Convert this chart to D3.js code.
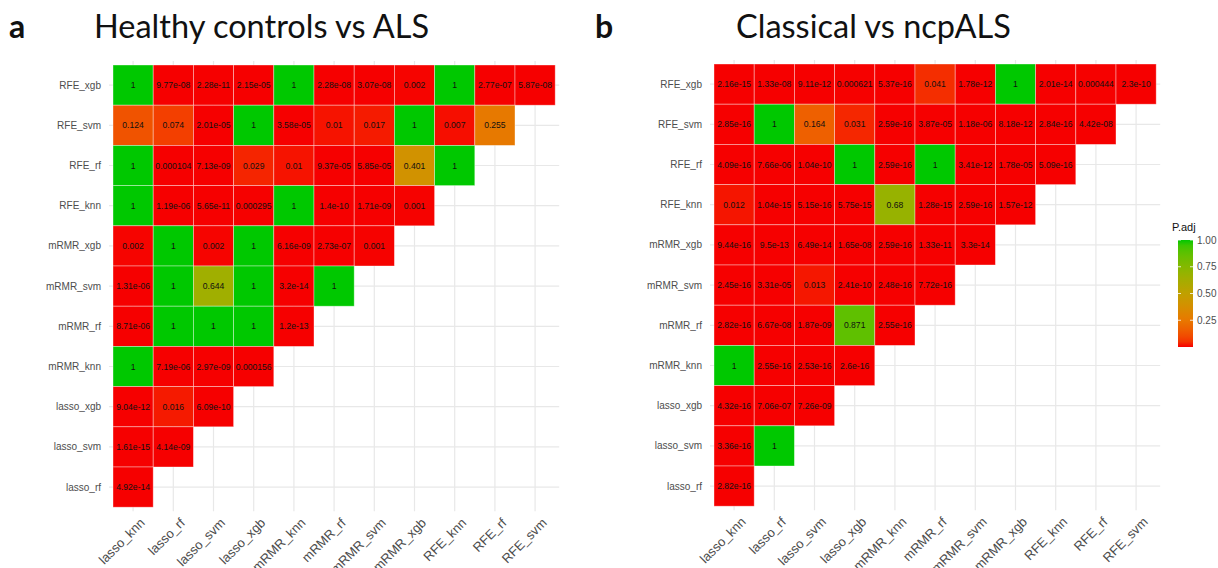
<!DOCTYPE html>
<html>
<head>
<meta charset="utf-8">
<script src="https://cdn.jsdelivr.net/npm/d3@7"></script>
<style>
  body { margin: 0; background: #fff; }
  svg { display: block; }
</style>
</head>
<body>
<div id="chart"></div>
<script>
// labels shared by both panels
const colLabels = ['lasso_knn', 'lasso_rf', 'lasso_svm', 'lasso_xgb', 'mRMR_knn', 'mRMR_rf',
  'mRMR_svm', 'mRMR_xgb', 'RFE_knn', 'RFE_rf', 'RFE_svm'];
const rowLabels = ['RFE_xgb', 'RFE_svm', 'RFE_rf', 'RFE_knn', 'mRMR_xgb', 'mRMR_svm',
  'mRMR_rf', 'mRMR_knn', 'lasso_xgb', 'lasso_svm', 'lasso_rf'];
const legendTicks = [0.25, 0.5, 0.75, 1];

// adjusted p-values, one array per row (top to bottom), starting at lasso_knn
const healthyVsALS = [
  ['1', '9.77e-08', '2.28e-11', '2.15e-05', '1', '2.28e-08', '3.07e-08', '0.002', '1', '2.77e-07', '5.87e-08'],
  ['0.124', '0.074', '2.01e-05', '1', '3.58e-05', '0.01', '0.017', '1', '0.007', '0.255'],
  ['1', '0.000104', '7.13e-09', '0.029', '0.01', '9.37e-05', '5.85e-05', '0.401', '1'],
  ['1', '1.19e-06', '5.65e-11', '0.000295', '1', '1.4e-10', '1.71e-09', '0.001'],
  ['0.002', '1', '0.002', '1', '6.16e-09', '2.73e-07', '0.001'],
  ['1.31e-06', '1', '0.644', '1', '3.2e-14', '1'],
  ['8.71e-06', '1', '1', '1', '1.2e-13'],
  ['1', '7.19e-06', '2.97e-09', '0.000156'],
  ['9.04e-12', '0.016', '6.09e-10'],
  ['1.61e-15', '4.14e-09'],
  ['4.92e-14']
];

const classicalVsNcpALS = [
  ['2.16e-15', '1.33e-08', '9.11e-12', '0.000621', '5.37e-16', '0.041', '1.78e-12', '1', '2.01e-14', '0.000444', '2.3e-10'],
  ['2.85e-16', '1', '0.164', '0.031', '2.59e-16', '3.87e-05', '1.18e-06', '8.18e-12', '2.84e-16', '4.42e-08'],
  ['4.09e-16', '7.66e-06', '1.04e-10', '1', '2.59e-16', '1', '3.41e-12', '1.78e-05', '5.09e-16'],
  ['0.012', '1.04e-15', '5.15e-16', '5.75e-15', '0.68', '1.28e-15', '2.59e-16', '1.57e-12'],
  ['9.44e-16', '9.5e-13', '6.49e-14', '1.65e-08', '2.59e-16', '1.33e-11', '3.3e-14'],
  ['2.45e-16', '3.31e-05', '0.013', '2.41e-10', '2.48e-16', '7.72e-16'],
  ['2.82e-16', '6.67e-08', '1.87e-09', '0.871', '2.55e-16'],
  ['1', '2.55e-16', '2.53e-16', '2.6e-16'],
  ['4.32e-16', '7.06e-07', '7.26e-09'],
  ['3.36e-16', '1'],
  ['2.82e-16']
];

const w = 1218;
const h = 568;
const cell = 40.2;

const svg = d3.select('#chart')
  .append('svg')
  .attr('width', w)
  .attr('height', h);

// red -> orange -> olive -> green
const color = d3.scaleLinear()
  .domain([0, 0.25, 0.5, 0.75, 1])
  .range(['#f60000', '#e87800', '#c0a000', '#84b800', '#00c800'])
  .interpolate(d3.interpolateLab);

// panel titles
function title(letter, text, xLetter, xText) {
  svg.append('text')
    .attr('x', xLetter).attr('y', 38)
    .attr('style', 'font: bold 32px Lato, "Open Sans", sans-serif; fill:#111;')
    .text(letter);
  svg.append('text')
    .attr('x', xText).attr('y', 38)
    .attr('style', 'font: 32.5px Lato, "Open Sans", sans-serif; fill:#111;')
    .text(text);
}
title('a', 'Healthy controls vs ALS', 9, 94);
title('b', 'Classical vs ncpALS', 595, 736);

function drawPanel(data, left, top) {
  const x = d3.scaleBand().domain(colLabels).range([left, left + cell * colLabels.length]);
  const y = d3.scaleBand().domain(rowLabels).range([top, top + cell * rowLabels.length]);
  const pad = 4;
  const g = svg.append('g');

  // grid lines at category centres
  g.selectAll('.vgrid')
    .data(colLabels)
    .enter()
    .append('line')
    .attr('x1', d => x(d) + x.bandwidth() / 2)
    .attr('x2', d => x(d) + x.bandwidth() / 2)
    .attr('y1', top - pad)
    .attr('y2', y.range()[1] + pad)
    .attr('stroke', '#e8e8e8')
    .attr('stroke-width', 1.2);
  g.selectAll('.hgrid')
    .data(rowLabels)
    .enter()
    .append('line')
    .attr('y1', d => y(d) + y.bandwidth() / 2)
    .attr('y2', d => y(d) + y.bandwidth() / 2)
    .attr('x1', left - pad)
    .attr('x2', x.range()[1] + pad)
    .attr('stroke', '#e8e8e8')
    .attr('stroke-width', 1.2);

  const cells = [];
  data.forEach((row, i) => {
    row.forEach((v, j) => cells.push({ row: rowLabels[i], col: colLabels[j], label: v, value: +v }));
  });

  const tile = g.selectAll('.tile')
    .data(cells)
    .enter()
    .append('g')
    .attr('transform', d => `translate(${x(d.col)}, ${y(d.row)})`);

  tile.append('rect')
    .attr('width', x.bandwidth())
    .attr('height', y.bandwidth())
    .attr('fill', d => color(d.value))
    .attr('stroke', '#ffffff')
    .attr('stroke-opacity', 0.45)
    .attr('stroke-width', 0.8);

  tile.append('text')
    .attr('x', x.bandwidth() / 2)
    .attr('y', y.bandwidth() / 2)
    .attr('dy', '0.35em')
    .attr('text-anchor', 'middle')
    .attr('style', 'font: 8.6px "Liberation Sans", Arial, sans-serif; fill:#111;')
    .text(d => d.label);

  // y axis labels
  g.selectAll('.ylab')
    .data(rowLabels)
    .enter()
    .append('text')
    .attr('x', left - 12)
    .attr('y', d => y(d) + y.bandwidth() / 2)
    .attr('dy', '0.35em')
    .attr('text-anchor', 'end')
    .attr('style', 'font: 10px "Liberation Sans", Arial, sans-serif; fill:#4d4d4d;')
    .text(d => d);

  // x axis labels, rotated
  g.selectAll('.xlab')
    .data(colLabels)
    .enter()
    .append('text')
    .attr('transform', d => `translate(${x(d) + x.bandwidth() / 2 + 6}, ${y.range()[1] + 10}) rotate(-45)`)
    .attr('text-anchor', 'end')
    .attr('dy', '0.7em')
    .attr('style', 'font: 13px "Liberation Sans", Arial, sans-serif; fill:#4d4d4d;')
    .text(d => d);
}

drawPanel(healthyVsALS, 113, 65);
drawPanel(classicalVsNcpALS, 714, 64);

// colour bar legend
const barX = 1178;
const barW = 15;
const barScale = d3.scaleLinear().domain([0, 1]).range([347, 240]);

const defs = svg.append('defs');
const grad = defs.append('linearGradient')
  .attr('id', 'padj')
  .attr('x1', 0).attr('x2', 0).attr('y1', 1).attr('y2', 0);
grad.selectAll('stop')
  .data(d3.range(0, 1.0001, 0.05))
  .enter()
  .append('stop')
  .attr('offset', d => d)
  .attr('stop-color', d => color(d));

svg.append('rect')
  .attr('x', barX)
  .attr('y', barScale(1))
  .attr('width', barW)
  .attr('height', barScale(0) - barScale(1))
  .attr('fill', 'url(#padj)');

svg.selectAll('.ltick')
  .data(legendTicks)
  .enter()
  .append('g')
  .each(function (d) {
    const gg = d3.select(this);
    const yy = barScale(d);
    gg.append('line').attr('x1', barX).attr('x2', barX + 3).attr('y1', yy).attr('y2', yy)
      .attr('stroke', '#fff').attr('stroke-width', 0.8);
    gg.append('line').attr('x1', barX + barW - 3).attr('x2', barX + barW).attr('y1', yy).attr('y2', yy)
      .attr('stroke', '#fff').attr('stroke-width', 0.8);
    gg.append('text')
      .attr('x', barX + barW + 4)
      .attr('y', yy)
      .attr('dy', '0.35em')
      .attr('style', 'font: 10px "Liberation Sans", Arial, sans-serif; fill:#4d4d4d;')
      .text(d3.format('.2f')(d));
  });

svg.append('text')
  .attr('x', barX - 6)
  .attr('y', 231)
  .attr('style', 'font: 11px "Liberation Sans", Arial, sans-serif; fill:#111;')
  .text('P.adj');
</script>
</body>
</html>
